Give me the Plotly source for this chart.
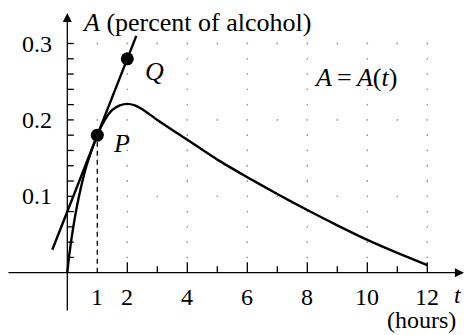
import plotly.graph_objects as go

# Blood alcohol concentration A(t) after drinking, t in hours
t_vals = [0, 0.055, 0.2, 0.39, 0.64, 1.0, 1.25, 1.5, 1.75, 2.0, 2.25, 2.5, 3.0,
          4.0, 5.0, 6.0, 7.0, 8.0, 9.0, 10.0, 11.0, 12.0]
a_vals = [0, 0.02, 0.06, 0.10, 0.14, 0.18, 0.200, 0.213, 0.219, 0.221, 0.219,
          0.214, 0.200, 0.174, 0.148, 0.125, 0.103, 0.082, 0.062, 0.043, 0.026, 0.010]

# Points P and Q on the secant/tangent line
P = (1, 0.18)
Q = (2, 0.28)
line_t = [-0.5, 2.3]

x_tick_vals = [1, 2, 4, 6, 8, 10, 12]
x_tick_text = ["1", "2", "4", "6", "8", "10", "12"]
x_minor_marks = [2, 3, 4, 5, 6, 7, 8, 9, 10, 11, 12]
y_tick_vals = [0.1, 0.2, 0.3]
y_tick_text = ["0.1", "0.2", "0.3"]
y_minor_marks = [round(0.02 * k, 2) for k in range(1, 16)]

# pixel <-> data helpers for this 467x335 frame
X0_PX, PX_PER_T = 67.3, 30.0
Y0_PX, PX_PER_A = 272.7, 764.0
W, H = 467, 335


def tx(px):
    return (px - X0_PX) / PX_PER_T


def ay(py):
    return (Y0_PX - py) / PX_PER_A


FONT = "Liberation Serif"
FS_NUM = 24
FS_TXT = 26
INK = "black"

fig = go.Figure()

# dotted background grid: every integer t on the 0.1 rows, even t elsewhere
gx, gy = [], []
for a in y_minor_marks:
    major = abs(a * 10 - round(a * 10)) < 1e-9
    for t in range(1, 13):
        if major or t % 2 == 0:
            gx.append(t)
            gy.append(a)
fig.add_trace(go.Scatter(x=gx, y=gy, mode="markers",
                         marker=dict(size=1.8, color="#9a9a9a"),
                         hoverinfo="skip", showlegend=False))

# line through P and Q
slope = (Q[1] - P[1]) / (Q[0] - P[0])
line_a = [P[1] + slope * (t - P[0]) for t in line_t]
fig.add_trace(go.Scatter(x=line_t, y=line_a, mode="lines",
                         line=dict(color=INK, width=2.4),
                         hoverinfo="skip", showlegend=False))

# concentration curve
fig.add_trace(go.Scatter(x=t_vals, y=a_vals, mode="lines",
                         line=dict(color=INK, width=2.4, shape="spline", smoothing=0.6),
                         hoverinfo="skip", showlegend=False))

# dashed drop line from P
fig.add_shape(type="line", x0=P[0], x1=P[0], y0=0, y1=P[1],
              line=dict(color=INK, width=1.3, dash="5px,4px"))

# points P and Q
fig.add_trace(go.Scatter(x=[P[0], Q[0]], y=[P[1], Q[1]], mode="markers",
                         marker=dict(size=13, color=INK),
                         hoverinfo="skip", showlegend=False))

# axes with arrowheads
fig.add_annotation(x=tx(464), y=0, ax=tx(7), ay=0, xref="x", yref="y",
                   axref="x", ayref="y", text="", showarrow=True,
                   arrowhead=2, arrowsize=1.4, arrowwidth=1.3, arrowcolor=INK)
fig.add_annotation(x=0, y=ay(13), ax=0, ay=ay(312), xref="x", yref="y",
                   axref="x", ayref="y", text="", showarrow=True,
                   arrowhead=2, arrowsize=1.4, arrowwidth=1.3, arrowcolor=INK)

# tick marks
for t in x_minor_marks:
    fig.add_shape(type="line", x0=t, x1=t, xref="x", yref="y",
                  ysizemode="pixel", yanchor=0, y0=0, y1=10.5 if t % 2 == 0 else 6.5,
                  line=dict(color=INK, width=1.3))
for a in y_minor_marks:
    fig.add_shape(type="line", y0=a, y1=a, xref="x", yref="y",
                  xsizemode="pixel", xanchor=0, x0=0, x1=6.5,
                  line=dict(color=INK, width=1.3))

# tick labels
for v, s in zip(x_tick_vals, x_tick_text):
    fig.add_annotation(x=v, y=ay(297), text=s, showarrow=False,
                       xanchor="center", yanchor="middle",
                       font=dict(family=FONT, size=FS_NUM, color=INK))
for v, s in zip(y_tick_vals, y_tick_text):
    fig.add_annotation(x=tx(54), y=v, text=s, showarrow=False,
                       xanchor="right", yanchor="middle",
                       font=dict(family=FONT, size=FS_NUM, color=INK))

# axis titles and labels
fig.add_annotation(x=tx(80), y=ay(22), text="<i>A</i> (percent of alcohol)",
                   showarrow=False, xanchor="left", yanchor="middle",
                   font=dict(family=FONT, size=FS_TXT, color=INK))
fig.add_annotation(x=tx(458), y=ay(295), text="<i>t</i>", showarrow=False,
                   xanchor="center", yanchor="middle", borderpad=0,
                   font=dict(family=FONT, size=FS_NUM, color=INK))
fig.add_annotation(x=tx(421), y=ay(320), text="(hours)", showarrow=False,
                   xanchor="center", yanchor="middle", borderpad=0,
                   font=dict(family=FONT, size=FS_NUM, color=INK))
fig.add_annotation(x=tx(154), y=ay(71), text="<i>Q</i>", showarrow=False,
                   xanchor="center", yanchor="middle",
                   font=dict(family=FONT, size=FS_TXT, color=INK))
fig.add_annotation(x=tx(121), y=ay(143), text="<i>P</i>", showarrow=False,
                   xanchor="center", yanchor="middle",
                   font=dict(family=FONT, size=FS_TXT, color=INK))
fig.add_annotation(x=tx(355), y=ay(77),
                   text="<i>A</i>\u2009=\u2009<i>A</i>(<i>t</i>)",
                   showarrow=False, xanchor="center", yanchor="middle",
                   font=dict(family=FONT, size=FS_TXT, color=INK))

fig.update_layout(
    width=W, height=H,
    margin=dict(l=0, r=0, t=0, b=0),
    paper_bgcolor="white", plot_bgcolor="white",
    xaxis=dict(range=[tx(0), tx(W)], visible=False, fixedrange=True),
    yaxis=dict(range=[ay(H), ay(0)], visible=False, fixedrange=True),
    showlegend=False,
)

fig.write_html("out.html")
